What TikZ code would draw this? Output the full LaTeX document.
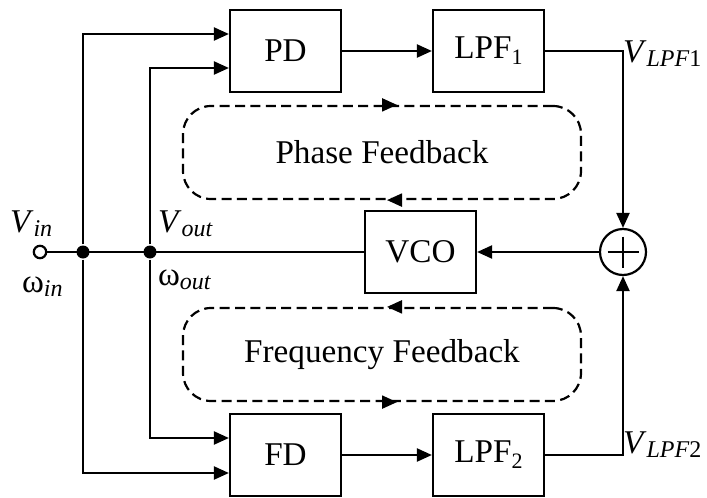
\documentclass[tikz,border=0pt]{standalone}
\usepackage{fontspec}
\setmainfont{Liberation Serif}
\usetikzlibrary{arrows.meta}
\newcommand{\lsub}[1]{\raisebox{-2.2pt}{\fontsize{12}{12}\selectfont #1}}
\newcommand{\bsub}[1]{\raisebox{-3pt}{\fontsize{11}{11}\selectfont #1}}
\begin{document}
\begin{tikzpicture}[>={Triangle[length=7.5pt,width=6.5pt]},x=0.5pt,y=-0.5pt,line width=1.1pt,
  font=\fontsize{16.6}{19}\selectfont,
  blk/.style={draw,minimum width=55.5pt,minimum height=41pt,inner sep=0},
  loopbox/.style={draw,dash pattern=on 5pt off 2.7pt,rounded corners=14pt,minimum width=199pt,minimum height=46.5pt},
  dot/.style={circle,fill,inner sep=0,minimum size=6.5pt},
  port/.style={circle,draw,fill=white,inner sep=0,minimum size=6.2pt},
  lbl/.style={inner sep=0,anchor=base west}]
\useasboundingbox (0,0) rectangle (707,498);
% blocks
\node[blk] (pd) at (285.5,51) {PD};
\node[blk] (lpfa) at (488.5,51) {LPF\bsub{1}};
\node[blk] (vco) at (420.5,252) {VCO};
\node[blk] (fd) at (285.5,455) {FD};
\node[blk] (lpfb) at (488.5,455) {LPF\bsub{2}};
\node[circle,draw,minimum size=23pt,inner sep=0] (sum) at (623,252) {};
\draw (sum.center) +(-15.5,0) -- +(15.5,0) (sum.center) +(0,-15.5) -- +(0,15.5);
% feedback loops
\node[loopbox] (phase) at (382,152.5) {Phase Feedback};
\node[loopbox] (freq) at (382,354.5) {Frequency Feedback};
\draw[->] (phase.north) -- ([xshift=7.5pt]phase.north);
\draw[<-] ([xshift=2.5pt]phase.south) -- ([xshift=10pt]phase.south);
\draw[<-] ([xshift=2.5pt]freq.north) -- ([xshift=10pt]freq.north);
\draw[->] (freq.south) -- ([xshift=7.5pt]freq.south);
% input and output
\node[dot] (ja) at (83,252) {};
\node[dot] (jb) at (150,252) {};
\draw (vco) -- (40,252) node[port] (vin) {};
\draw[->] (ja) |- ([yshift=8.5pt]pd.west);
\draw[->] (ja) |- ([yshift=-9pt]fd.west);
\draw[->] (jb) |- ([yshift=-8.5pt]pd.west);
\draw[->] (jb) |- ([yshift=8.5pt]fd.west);
\draw[->] (pd) -- (lpfa);
\draw[->] (fd) -- (lpfb);
\draw[->] (lpfa) -| (sum);
\draw[->] (lpfb) -| (sum);
\draw[->] (sum) -- (vco);
% labels
\node[lbl] (vinl) at (9,232) {\textit{V}\lsub{\textit{in}}};
\node[lbl] (winl) at (21,292) {ω\lsub{\textit{in}}};
\node[lbl] (voutl) at (157,232) {\textit{V}\lsub{\textit{out}}};
\node[lbl] (woutl) at (157,285) {ω\lsub{\textit{out}}};
\node[lbl] (vlpfa) at (622,62) {\textit{V}\lsub{\textit{LPF}1}};
\node[lbl] (vlpfb) at (622,453) {\textit{V}\lsub{\textit{LPF}2}};
\end{tikzpicture}
\end{document}
